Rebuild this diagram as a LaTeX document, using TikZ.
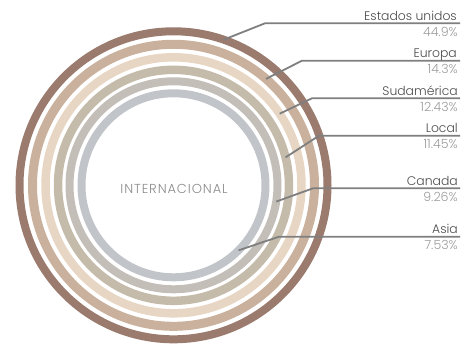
\documentclass[tikz,border=0pt]{standalone}
\usepackage{fontspec}
\IfFontExistsTF{Poppins Light}{\setmainfont{Poppins Light}}{\setmainfont{Poppins}}
\definecolor{rbrown}{HTML}{9A7B6E}
\definecolor{rtan}{HTML}{C9B19D}
\definecolor{rbeige}{HTML}{E8D6C5}
\definecolor{rtaupe}{HTML}{C5BBAA}
\definecolor{rgray}{HTML}{C4BEB8}
\definecolor{rlight}{HTML}{C1C5CA}
\definecolor{leadc}{HTML}{7F7F7F}
\definecolor{lblc}{HTML}{4A4A4A}
\definecolor{pctc}{HTML}{9B9B9B}
\definecolor{midc}{HTML}{8A8A8A}
\begin{document}
\begin{tikzpicture}[x=1pt,y=-1pt,
  ringbox/.style={circle,inner sep=0pt,outer sep=0pt,line width=8.5pt},
  leadline/.style={draw=leadc,line width=1.8pt},
  namebox/.style={inner sep=0pt,anchor=base east,text=lblc,font=\fontsize{12.4}{14}\selectfont},
  pctbox/.style={inner sep=0pt,anchor=base east,text=pctc,font=\fontsize{12.6}{14}\selectfont}]
\useasboundingbox (0,0) rectangle (466,343);
\coordinate (c) at (173.5,185.3);
\node[ringbox,draw=rbrown,line width=8pt,minimum size=308pt] (r1) at (c) {};
\node[ringbox,draw=rtan,line width=9pt,minimum size=282pt] (r2) at (c) {};
\node[ringbox,draw=rbeige,minimum size=256pt] (r3) at (c) {};
\node[ringbox,draw=rtaupe,minimum size=231pt] (r4) at (c) {};
\node[ringbox,draw=rgray,line width=8pt,minimum size=208pt] (r5) at (c) {};
\node[ringbox,draw=rlight,line width=8pt,minimum size=184pt] (r6) at (c) {};
\node[text=midc,inner sep=0pt,font=\fontsize{13}{15}\selectfont\addfontfeatures{LetterSpace=7}] (mid) at (174,189) {INTERNACIONAL};
% elbows and ends
\coordinate (k1) at (265,23.3);  \coordinate (e1) at (460,23.3);
\coordinate (k2) at (302,60.7);  \coordinate (e2) at (460,60.7);
\coordinate (k3) at (312,98.3);  \coordinate (e3) at (460,98.3);
\coordinate (k4) at (319,135.7); \coordinate (e4) at (460,135.7);
\coordinate (k5) at (313,188.3); \coordinate (e5) at (460,188.3);
\coordinate (k6) at (279,236.7); \coordinate (e6) at (460,236.7);
\draw[leadline] (r1.71) -- (k1) -- (e1);
\draw[leadline] (r2.49) -- (k2) -- (e2);
\draw[leadline] (r3.34) -- (k3) -- (e3);
\draw[leadline] (r4.14) -- (k4) -- (e4);
\draw[leadline] (r5.-9) -- (k5) -- (e5);
\draw[leadline] (r6.-45) -- (k6) -- (e6);
% labels
\node[namebox] (n1) at (457,20.3) {Estados unidos};
\node[pctbox] (p1) at (458,36.3) {44.9\%};
\node[namebox] (n2) at (457,57.7) {Europa};
\node[pctbox] (p2) at (458,73.7) {14.3\%};
\node[namebox] (n3) at (458,95.3) {Sudamérica};
\node[pctbox] (p3) at (458,111.3) {12.43\%};
\node[namebox] (n4) at (458,132.7) {Local};
\node[pctbox] (p4) at (458,148.7) {11.45\%};
\node[namebox] (n5) at (458,185.3) {Canada};
\node[pctbox] (p5) at (458,201.3) {9.26\%};
\node[namebox] (n6) at (458,233.7) {Asia};
\node[pctbox] (p6) at (458,249.7) {7.53\%};
\end{tikzpicture}
\end{document}
